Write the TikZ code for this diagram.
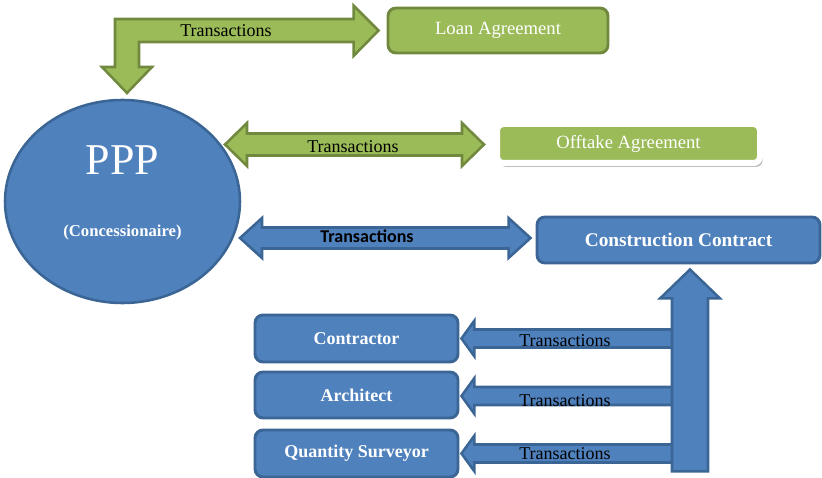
\documentclass[tikz,border=0pt]{standalone}
\usepackage{fontspec}
\setmainfont{Liberation Serif}
\newfontfamily\calib{Carlito}
\usetikzlibrary{shapes.geometric,calc,shadows}

\definecolor{ppblue}{HTML}{4F81BD}
\definecolor{ppblueline}{HTML}{3A6594}
\definecolor{ppgreen}{HTML}{9BBB59}
\definecolor{ppgreenline}{HTML}{71893F}

\tikzset{
  bluebox/.style  ={rectangle, rounded corners=6pt, fill=ppblue, draw=ppblueline,
                    line width=2.2pt, text=white, font=\bfseries\fontsize{13.5}{16}\selectfont},
  greenbox/.style ={rectangle, rounded corners=6pt, fill=ppgreen, draw=ppgreenline,
                    line width=2.2pt, text=white, font=\fontsize{14}{16}\selectfont},
  bluearrow/.style ={fill=ppblue, draw=ppblueline, line width=1.9pt, line join=miter},
  greenarrow/.style={fill=ppgreen, draw=ppgreenline, line width=1.9pt, line join=miter},
  tlbl/.style     ={font=\fontsize{13.5}{16}\selectfont, inner sep=0pt}
}

% fat double arrow: #2 left tip, #3 right tip, #4 shaft half, #5 head half, #6 head length
\newcommand{\dblarrow}[6]{%
  \draw[#1] (#2) -- ++(#6,-#5) -- ++(0,{#5-#4}) -- ($(#3)+(-#6,-#4)$)
    -- ++(0,{#4-#5}) -- (#3) -- ++(-#6,#5) -- ++(0,{#4-#5})
    -- ($(#2)+(#6,#4)$) -- ++(0,{#5-#4}) -- cycle;}

\begin{document}
\begin{tikzpicture}[x=0.75pt,y=-0.75pt]
\useasboundingbox (0,0) rectangle (822,478);

%% ---- parties -------------------------------------------------------
\node[ellipse, fill=ppblue, draw=ppblueline, line width=1.9pt,
      minimum width=235*0.75pt, minimum height=203*0.75pt] (ppp) at (122.5,201.5) {};
\node[text=white, font=\fontsize{33}{35}\selectfont] (ppptitle)
      at ($(ppp.center)+(0,-41)$) {PPP};
\node[text=white, font=\bfseries\fontsize{12.5}{14}\selectfont] (pppsub)
      at ($(ppp.center)+(0,31)$) {(Concessionaire)};

\node[greenbox, minimum width=220*0.75pt, minimum height=45*0.75pt] (loan)
      at (498,30.5) {Loan Agreement};
\node[greenbox, draw=white, line width=4.5pt, rounded corners=5pt,
      drop shadow={opacity=0.5, shadow xshift=2pt, shadow yshift=-3pt},
      minimum width=263*0.75pt, minimum height=39*0.75pt] (offtake)
      at (628.5,143.5) {Offtake Agreement};
\node[bluebox, font=\bfseries\fontsize{14.5}{16}\selectfont,
      minimum width=283*0.75pt, minimum height=46*0.75pt] (contract)
      at (678.5,240) {Construction Contract};

\node[bluebox, minimum width=203*0.75pt, minimum height=47*0.75pt] (contractor)
      at (356.5,338.5) {Contractor};
\node[bluebox, minimum width=203*0.75pt, minimum height=46*0.75pt] (architect)
      at (356.5,395) {Architect};
\node[bluebox, minimum width=203*0.75pt, minimum height=47*0.75pt] (surveyor)
      at (356.5,453.5) {Quantity Surveyor};

%% ---- arrow ends ----------------------------------------------------
\coordinate (ppptip)  at (127,93);
\coordinate (loantip) at ($(loan.west)+(-8,0)$);
\coordinate (offl)    at (225,144.5);
\coordinate (offr)    at ($(offtake.west |- offl)+(-10,0)$);
\coordinate (conl)    at (240,238);
\coordinate (conr)    at ($(contract.west |- conl)+(-5,0)$);
\coordinate (uptip)   at ($(contract.south)+(11.5,5)$);

%% ---- loan: elbow arrow ---------------------------------------------
\draw[greenarrow] (ppptip) -- ++(25,-26) -- ++(-13,0)
      |- ($(loantip)+(-25,11.5)$) -- ++(0,14) -- (loantip) -- ++(-25,-25)
      -- ++(0,13.5) -| ($(ppptip)+(-12,-26)$) -- ++(-13,0) -- cycle;
\node[tlbl] (tloan) at (226,31) {Transactions};

%% ---- offtake and construction: two-way arrows ----------------------
\dblarrow{greenarrow}{offl}{offr}{11}{21.5}{22}
\node[tlbl] (toff) at (353,146.5) {Transactions};

\dblarrow{bluearrow}{conl}{conr}{10.5}{20}{22}
\node[tlbl, font=\calib\bfseries\fontsize{13.5}{16}\selectfont] (tcon)
      at (367,236) {Transactions};

%% ---- consultants fed from the contract ------------------------------
\foreach \who/\dy in {contractor/0, architect/1, surveyor/0}{
  \draw[bluearrow] ($(\who.east)+(2,\dy)$) -- ++(13,-18) -- ++(0,9)
        -- ($(\who.east -| uptip)+(0,{\dy-9})$) -- ++(0,18)
        -- ($(\who.east)+(15,{\dy+9})$) -- ++(0,9) -- cycle;
}
\draw[bluearrow] (uptip) -- ++(30,29) -- ++(-12,0) -- ++(0,173)
      -- ++(-36,0) -- ++(0,-173) -- ++(-12,0) -- cycle;

\node[tlbl] (tctr) at (565,341) {Transactions};
\node[tlbl] (tarc) at (565,400.5) {Transactions};
\node[tlbl] (tqs)  at (565,453.5) {Transactions};
\end{tikzpicture}
\end{document}
